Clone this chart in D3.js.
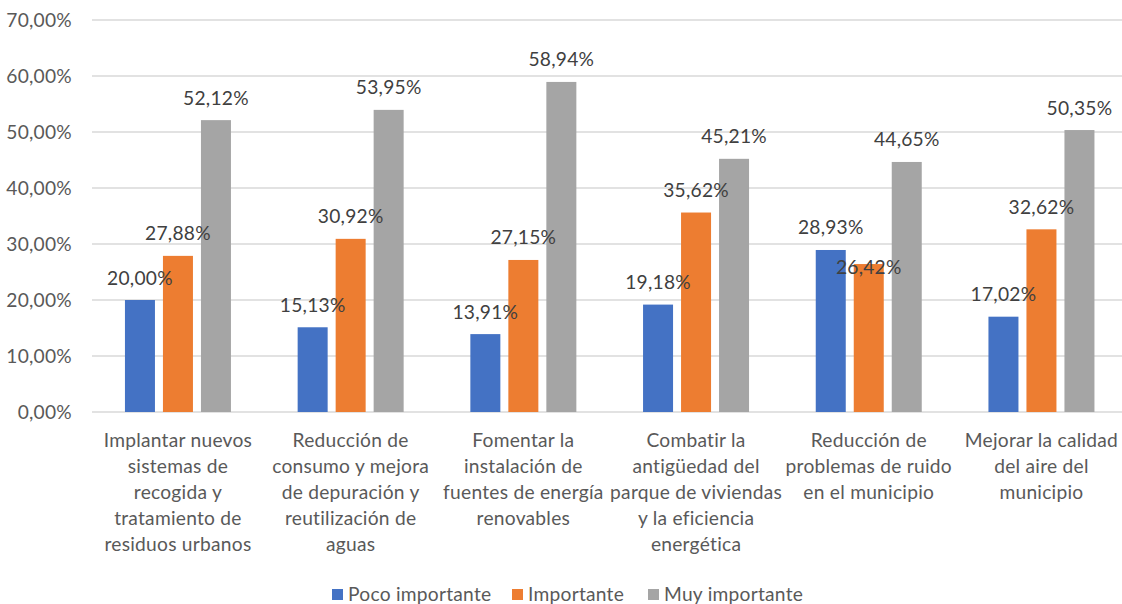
<!DOCTYPE html>
<html><head><meta charset="utf-8">
<script src="https://cdn.jsdelivr.net/npm/d3@7"></script>
<style>body{margin:0;background:#fff}svg{display:block}</style>
</head><body>
<svg id="c" width="1122" height="604"></svg>
<script>
const categories = [
  ["Implantar nuevos","sistemas de","recogida y","tratamiento de","residuos urbanos"],
  ["Reducción de","consumo y mejora","de depuración y","reutilización de","aguas"],
  ["Fomentar la","instalación de","fuentes de energía","renovables"],
  ["Combatir la","antigüedad del","parque de viviendas","y la eficiencia","energética"],
  ["Reducción de","problemas de ruido","en el municipio"],
  ["Mejorar la calidad","del aire del","municipio"]
];
const seriesNames = ["Poco importante","Importante","Muy importante"];
const pocoImportante = [20.00, 15.13, 13.91, 19.18, 28.93, 17.02];
const importante = [27.88, 30.92, 27.15, 35.62, 26.42, 32.62];
const muyImportante = [52.12, 53.95, 58.94, 45.21, 44.65, 50.35];
const yTicks = [0,10,20,30,40,50,60,70];
const colors = ["#4472C4","#ED7D31","#A5A5A5"];

(function(){
const values = [pocoImportante, importante, muyImportante];
const svg = d3.select("#c");
const font = "Lato, 'Liberation Sans', sans-serif";
const fs = 19.2;
const ls = 0.25;
const fmt = v => v.toFixed(2).replace(".", ",") + "%";

const pl = 91.6, pr = 1127.8, pt = 20, pb = 412;
const x0 = d3.scaleBand().domain(d3.range(categories.length)).range([pl, pr]);
const x1 = d3.scaleBand().domain(d3.range(3)).range([-53, 53]).paddingInner(8/38);
const y = d3.scaleLinear().domain([0, 70]).range([pb, pt]);

svg.append("g").selectAll("line").data(yTicks).join("line")
  .attr("x1", 92).attr("x2", 1122)
  .attr("y1", d => y(d)).attr("y2", d => y(d))
  .attr("stroke", "#D9D9D9").attr("stroke-width", 1.3);

svg.append("g").selectAll("text").data(yTicks).join("text")
  .attr("x", 72).attr("y", d => y(d) + 6.5)
  .attr("text-anchor", "end").attr("font-family", font).attr("font-size", fs)
  .attr("letter-spacing", ls)
  .attr("fill", "#595959").text(d => d.toFixed(2).replace(".", ",") + "%");

const groups = svg.append("g").selectAll("g").data(categories).join("g")
  .attr("transform", (d, i) => `translate(${x0(i) + x0.bandwidth()/2},0)`);
groups.each(function(_, ci) {
  const g = d3.select(this);
  const items = d3.range(3).map(si => ({si, v: values[si][ci]}));
  g.selectAll("rect").data(items).join("rect")
    .attr("x", d => x1(d.si)).attr("width", x1.bandwidth())
    .attr("y", d => y(d.v)).attr("height", d => pb - y(d.v))
    .attr("fill", d => colors[d.si]);
  let prev = null;
  items.forEach(d => {
    const cx = x1(d.si) + x1.bandwidth()/2;
    let by = y(d.v) - 15.5;
    if (prev && Math.abs(prev.by - by) < 20 && Math.abs(prev.cx - cx) < 62) {
      by = y(d.v) + 10;
    }
    g.append("text").attr("x", cx).attr("y", by)
      .attr("text-anchor", "middle").attr("font-family", font).attr("font-size", fs)
      .attr("letter-spacing", ls)
      .attr("fill", "#404040").text(fmt(d.v));
    prev = {cx, by};
  });
});

const xl = svg.append("g").selectAll("text").data(categories).join("text")
  .attr("font-family", font).attr("font-size", fs).attr("fill", "#595959")
  .attr("letter-spacing", ls)
  .attr("text-anchor", "middle");
xl.each(function(lines, i) {
  d3.select(this).selectAll("tspan").data(lines).join("tspan")
    .attr("x", x0(i) + x0.bandwidth()/2)
    .attr("y", (d, k) => 446.5 + k * 26.2)
    .text(d => d);
});

const legX = [332, 512, 648];
const leg = svg.append("g").selectAll("g").data(seriesNames).join("g")
  .attr("transform", (d, i) => `translate(${legX[i]},589)`);
leg.append("rect").attr("width", 11).attr("height", 11).attr("fill", (d, i) => colors[i]);
leg.append("text").attr("x", 16).attr("y", 12)
  .attr("font-family", font).attr("font-size", fs).attr("letter-spacing", ls)
  .attr("fill", "#595959").text(d => d);
})();
</script>
</body></html>
